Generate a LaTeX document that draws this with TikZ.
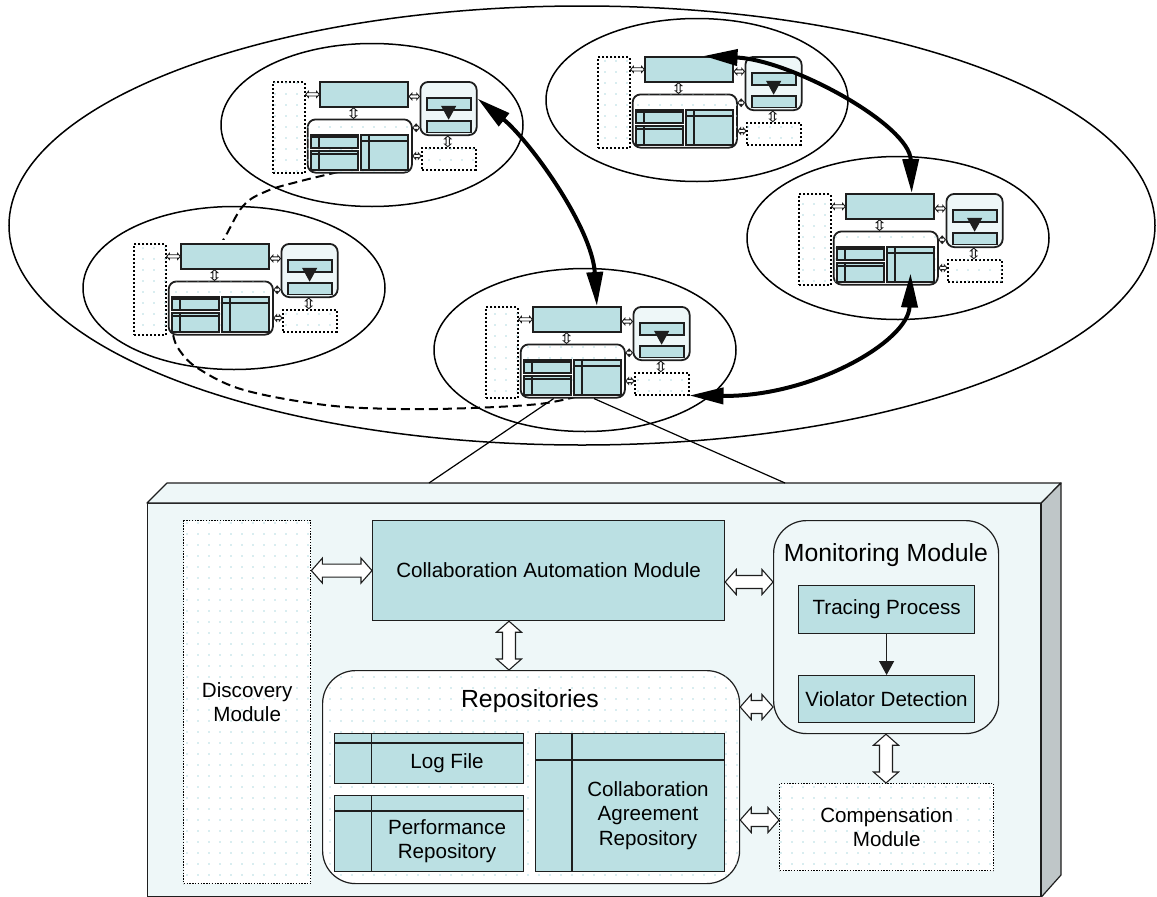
\documentclass[tikz,border=0pt]{standalone}
\usepackage{fontspec}
\setmainfont{Liberation Sans}
\usetikzlibrary{calc,arrows.meta,shapes.geometric,patterns.meta}
\definecolor{tealbox}{RGB}{187,224,227}
\definecolor{paleface}{RGB}{238,247,248}
\definecolor{sideface}{RGB}{191,198,200}
\definecolor{dotc}{RGB}{180,220,226}
\definecolor{edge}{RGB}{30,30,30}
\newcommand\ntxt{\fontsize{20.6}{24.5}\selectfont}
\newcommand\btxt{\fontsize{24.8}{29}\selectfont}
\tikzset{
  moddash/.style={dash pattern=on 1.4pt off 1.4pt},
  tbox/.style={rectangle, draw=edge, fill=tealbox, line width=\lw, anchor=north west, inner sep=0pt, align=center, font=\ntxt},
  rbox/.style={rectangle, rounded corners=\rr, draw=edge, line width=\lw, anchor=north west, inner sep=0pt},
  dotpat/.style={postaction={pattern={Dots[distance=11pt,radius=0.8pt]}, pattern color=dotc}},
  dotbox/.style={rectangle, draw=black, line width=\dlw, moddash, fill=white, dotpat, anchor=north west, inner sep=0pt, align=center, font=\ntxt},
  txt/.style={align=center, font=\ntxt, inner sep=0pt},
  fat/.style={draw=edge, fill=white, line width=\alw, line join=miter, to path={
    ($(\tikztostart)!\fL!(\tikztotarget)$) coordinate (fa1)
    ($(\tikztotarget)!\fL!(\tikztostart)$) coordinate (fa2)
    (\tikztostart) -- ($(fa1)!\fW!90:(\tikztotarget)$) -- ($(fa1)!\fw!90:(\tikztotarget)$)
    -- ($(fa2)!\fw!-90:(\tikztostart)$) -- ($(fa2)!\fW!-90:(\tikztostart)$) -- (\tikztotarget)
    -- ($(fa2)!\fW!90:(\tikztostart)$) -- ($(fa2)!\fw!90:(\tikztostart)$)
    -- ($(fa1)!\fw!-90:(\tikztotarget)$) -- ($(fa1)!\fW!-90:(\tikztotarget)$) -- cycle}},
  bigarrow/.style={line width=4pt, draw=black, {Triangle[width=16pt,length=34pt]}-{Triangle[width=16pt,length=34pt]}},
  ell/.style={ellipse, draw=black, line width=1.5pt, inner sep=0pt, minimum width=302pt, minimum height=163pt},
}
% #1 name prefix, #2 x0, #3 y0, #4 scale, #5 1 = full size with text
\newcommand\drawmodule[5]{%
\begin{scope}
\pgfmathsetmacro\s{#4}%
\ifnum#5=1\relax
  \def\T##1{##1}\def\lw{1.2pt}\def\dlw{1.4pt}\def\alw{1.1pt}\def\rr{33pt}\def\tlw{1.2pt}%
  \tikzset{moddash/.style={dash pattern=on 1.4pt off 1.4pt}}%
\else
  \def\T##1{}\def\lw{1.8pt}\def\dlw{2pt}\def\alw{0.9pt}\def\rr{8pt}\def\tlw{1.5pt}%
  \tikzset{moddash/.style={dash pattern=on 2pt off 2pt}}%
  \fill[white] ({#2-3},{#3-3}) rectangle ({#2+818*\s},{#3+366*\s});%
\fi
\pgfmathsetlengthmacro\fL{11pt*\s}%
\pgfmathsetlengthmacro\fW{12.5pt*\s}%
\pgfmathsetlengthmacro\fw{6.5pt*\s}%
\node[dotbox, minimum width={127*\s}, minimum height={363*\s}] (#1-dm) at ({#2},{#3}) {\T{Discovery\\Module}};
\node[tbox, minimum width={352*\s}, minimum height={100*\s}] (#1-cam) at ({#2+189*\s},{#3}) {\T{Collaboration Automation Module}};
\node[rbox, fill=paleface, minimum width={225*\s}, minimum height={213*\s}] (#1-mon) at ({#2+590*\s},{#3}) {};
\node[txt, font=\btxt] (#1-montitle) at ({#2+703*\s},{#3+35*\s}) {\T{Monitoring Module}};
\node[tbox, minimum width={176*\s}, minimum height={48*\s}] (#1-tr) at ({#2+615*\s},{#3+65*\s}) {\T{Tracing Process}};
\node[tbox, minimum width={176*\s}, minimum height={47*\s}] (#1-vd) at ({#2+615*\s},{#3+155*\s}) {\T{Violator Detection}};
\node[rbox, fill=white, dotpat, minimum width={417*\s}, minimum height={213*\s}] (#1-repos) at ({#2+139*\s},{#3+150*\s}) {};
\node[txt, font=\btxt] (#1-rtitle) at ({#2+347*\s},{#3+181*\s}) {\T{Repositories}};
\node[dotbox, minimum width={214*\s}, minimum height={87*\s}] (#1-comp) at ({#2+596*\s},{#3+263*\s}) {\T{Compensation\\Module}};
% tables
\node[tbox, minimum width={189*\s}, minimum height={50*\s}] (#1-log) at ({#2+151*\s},{#3+213*\s}) {};
\draw[draw=edge, line width=\lw] ({#2+188.5*\s},{#3+213*\s}) -- ({#2+188.5*\s},{#3+263*\s})
  ({#2+151*\s},{#3+223*\s}) -- ({#2+340*\s},{#3+223*\s});
\node[txt] (#1-logtxt) at ({#2+264*\s},{#3+243*\s}) {\T{Log File}};
\node[tbox, minimum width={189*\s}, minimum height={76*\s}] (#1-perf) at ({#2+151*\s},{#3+275*\s}) {};
\draw[draw=edge, line width=\lw] ({#2+188.5*\s},{#3+275*\s}) -- ({#2+188.5*\s},{#3+351*\s})
  ({#2+151*\s},{#3+291*\s}) -- ({#2+340*\s},{#3+291*\s});
\node[txt] (#1-perftxt) at ({#2+264*\s},{#3+321*\s}) {\T{Performance\\Repository}};
\node[tbox, minimum width={189*\s}, minimum height={138*\s}] (#1-coll) at ({#2+352*\s},{#3+213*\s}) {};
\draw[draw=edge, line width=\lw] ({#2+389*\s},{#3+213*\s}) -- ({#2+389*\s},{#3+351*\s})
  ({#2+352*\s},{#3+240*\s}) -- ({#2+541*\s},{#3+240*\s});
\node[txt] (#1-colltxt) at ({#2+465*\s},{#3+295.5*\s}) {\T{Collaboration\\Agreement\\Repository}};
% helper positions for the hollow arrows
\coordinate (#1-y1) at ({#2},{#3+62*\s});
\coordinate (#1-y2) at ({#2},{#3+187*\s});
\coordinate (#1-y3) at ({#2},{#3+300*\s});
\coordinate (#1-x1) at ({#2+326*\s},{#3});
\coordinate (#1-x2) at ({#2+703*\s},{#3});
\draw[fat] (#1-dm.east |- #1-cam.west) to (#1-cam.west);
\draw[fat] (#1-cam.east |- #1-y1) to (#1-mon.west |- #1-y1);
\draw[fat] (#1-cam.south -| #1-x1) to (#1-repos.north -| #1-x1);
\draw[fat] (#1-repos.east |- #1-y2) to (#1-mon.west |- #1-y2);
\draw[fat] (#1-repos.east |- #1-y3) to (#1-comp.west |- #1-y3);
\draw[fat] (#1-mon.south -| #1-x2) to (#1-comp.north -| #1-x2);
\draw[draw=edge, line width=\tlw, -{Triangle[width=15pt,length=14pt]}] (#1-tr.south) -- (#1-vd.north);
\end{scope}}

\begin{document}
\begin{tikzpicture}[x=1pt, y=-1pt]
\useasboundingbox (0,0) rectangle (1157,897);
% the network of organisations
\node[ellipse, draw=black, line width=1.5pt, inner sep=0pt, minimum width=1146pt, minimum height=439pt] (world) at (582,225.5) {};
\node[ell] (e1) at (372,125) {};
\node[ell] (e2) at (697,100) {};
\node[ell] (e3) at (234,288) {};
\node[ell] (e4) at (585,350) {};
\node[ell] (e5) at (898,238) {};

% dashed link (drawn before the modules so it passes behind them)
\coordinate (ds) at (338,172);
\coordinate (de) at (575,397);
\draw[black, line width=2pt, dash pattern=on 9pt off 5pt] plot[smooth, tension=0.6] coordinates {(ds) (297,182) (267,191) (243,206) (222,242) (195,280) (174,315) (173,334) (180,351) (199,369) (244,390) (325,405) (400,409) (472,408) (539,404) (de)};

\drawmodule{m1}{272}{81}{0.25}{0}
\drawmodule{m2}{597}{56}{0.25}{0}
\drawmodule{m3}{133}{243}{0.25}{0}
\drawmodule{m4}{485}{306}{0.25}{0}
\drawmodule{m5}{798}{193}{0.25}{0}

% 3D base box
\node[rectangle, draw=edge, fill=paleface, line width=1.2pt, inner sep=0pt, anchor=north west, minimum width=893pt, minimum height=393pt] (base) at (147,503) {};
\coordinate (tbl) at (167,483);
\coordinate (tbr) at (1061,483);
\coordinate (sbr) at (1061,875);
\draw[draw=edge, fill=paleface, line width=1.2pt, line join=round] (base.north west) -- (tbl) -- (tbr) -- (base.north east) -- cycle;
\draw[draw=edge, fill=sideface, line width=1.2pt, line join=round] (base.north east) -- (tbr) -- (sbr) -- (base.south east) -- cycle;

\drawmodule{f}{183}{520}{1}{1}

% zoom lines from the bottom organisation to the base box
\coordinate (L1) at ($(m4-repos.south west)!0.32!(m4-repos.south east)$);
\coordinate (L2) at ($(m4-repos.south west)!0.70!(m4-repos.south east)$);
\coordinate (T1) at (429,483);
\coordinate (T2) at (785,483);
\draw[black, line width=1.2pt] (L1) -- (T1);
\draw[black, line width=1.2pt] (L2) -- (T2);

% thick collaboration arrows
\coordinate (A1) at ($(m1-mon.north east)!0.32!(m1-mon.south east)$);
\coordinate (A2) at ($(m4-cam.north west)!0.72!(m4-cam.north east)$);
\draw[bigarrow] (A1) .. controls +(50,40) and +(-5,-80) .. (A2);
\coordinate (B1) at ($(m2-cam.north west)!0.66!(m2-cam.north east)$);
\coordinate (B2) at ($(m5-cam.north west)!0.74!(m5-cam.north east)$);
\draw[bigarrow] (B1) .. controls +(88,4) and +(-2,-68) .. (B2);
\coordinate (C1) at ($(m5-coll.north)!0.75!(m5-coll.south)$);
\draw[bigarrow] (C1) .. controls +(-2,68) and +(122,1.5) .. (m4-comp.south east);
\end{tikzpicture}
\end{document}
